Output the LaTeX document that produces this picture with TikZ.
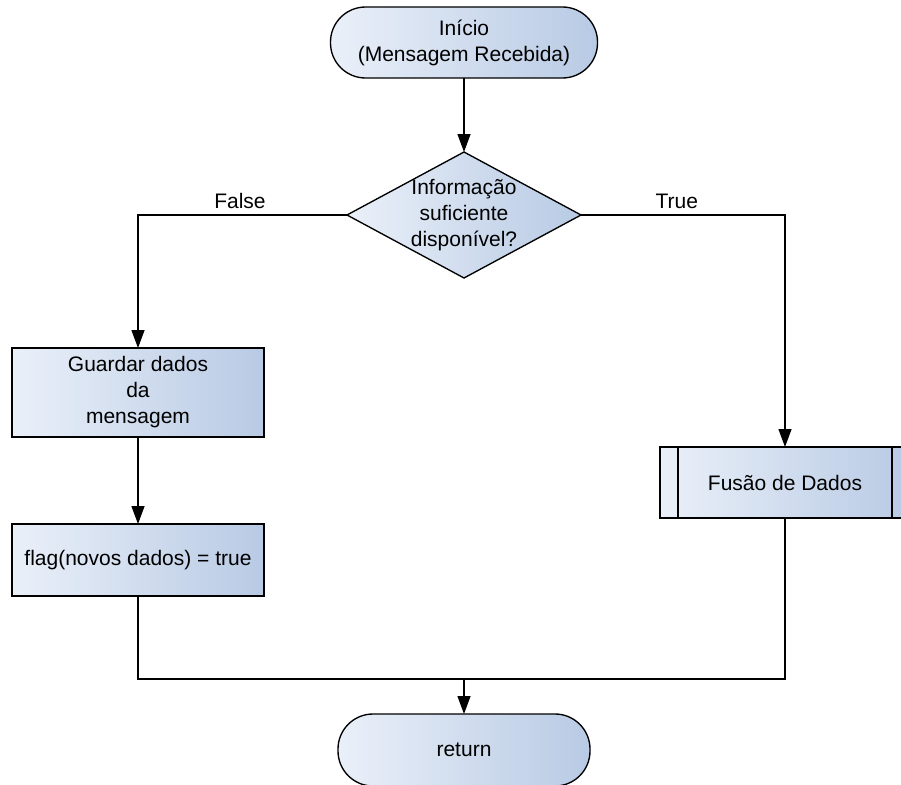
\documentclass[tikz,border=0pt]{standalone}
\usepackage{fontspec}
\setmainfont{Liberation Sans}
\usetikzlibrary{shapes.geometric,arrows.meta}
\definecolor{gleft}{HTML}{EAF0F9}
\definecolor{gright}{HTML}{B8CAE4}
\tikzset{
  base/.style={draw=black, line width=1.35pt, left color=gleft, right color=gright, inner sep=0pt, outer sep=0pt, font=\fontsize{21}{26}\selectfont, align=center},
  term/.style={base, rectangle, rounded corners=35pt},
  procbox/.style={base, rectangle},
  decbox/.style={base, diamond, aspect=1.857},
  conn/.style={line width=1.35pt, draw=black},
  arr/.style={conn, -{Triangle[width=13pt,length=18pt]}},
  lbl/.style={font=\fontsize{21}{26}\selectfont, inner sep=0pt}
}
\begin{document}
\begin{tikzpicture}[x=1pt,y=-1pt]
\useasboundingbox (0,0) rectangle (901,784);
\clip (0,0) rectangle (901,784);
\node[term, minimum width=267pt, minimum height=71pt] (start) at (464,42.5) {Início\\(Mensagem Recebida)};
\node[decbox, minimum width=234pt, minimum height=126pt] (dec) at (464,215) {\makebox[0pt]{\begin{tabular}{@{}c@{}}Informação\\suficiente\\disponível?\end{tabular}}};
\node[procbox, minimum width=252pt, minimum height=89pt] (guard) at (138,392.5) {Guardar dados\\da\\mensagem};
\node[procbox, minimum width=252pt, minimum height=72pt] (flag) at (138,560) {flag(novos dados) = true};
\node[procbox, minimum width=250pt, minimum height=71pt] (fus) at (785,482.5) {Fusão de Dados};
\draw[conn] ([xshift=18pt]fus.north west) -- ([xshift=18pt]fus.south west);
\draw[conn] ([xshift=-18pt]fus.north east) -- ([xshift=-18pt]fus.south east);
\node[term, minimum width=252pt, minimum height=72pt] (ret) at (464,750) {return};
\coordinate (m) at (464,679);
\draw[arr] (start.south) -- (dec.north);
\draw[arr] (dec.west) -| node[lbl, pos=0.256, above=6pt] (fl) {False} (guard.north);
\draw[arr] (dec.east) -| node[lbl, pos=0.235, above=6pt] (tr) {True} (fus.north);
\draw[arr] (guard.south) -- (flag.north);
\draw[conn] (flag.south) |- (m) -| (fus.south);
\draw[arr] (m) -- (ret.north);
\end{tikzpicture}
\end{document}
